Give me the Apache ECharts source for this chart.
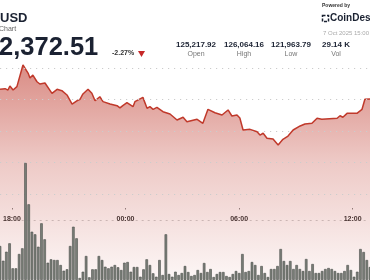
<!DOCTYPE html>
<html><head><meta charset="utf-8">
<script src="https://cdn.jsdelivr.net/npm/echarts@6/dist/echarts.min.js"></script>
<style>html,body{margin:0;padding:0;background:#fff}#c{width:370px;height:280px}</style>
</head><body><div id="c"></div>
<script>
// minutes relative to 00:00 (7 Oct)
const priceTimes = [-385,-369,-360,-354,-344,-332,-313,-297,-291,-282,-269,-260,-244,-222,-206,-191,-175,-159,-144,-134,-125,-109,-97,-87,-72,-62,-40,-18,-9,0,13,32,38,63,76,85,95,107,126,148,170,189,201,233,251,267,289,311,330,342,358,367,377,399,421,430,440,452,471,487,502,518,534,556,571,593,609,624,672,681,690,703,734,750,759,775];
const priceValues = [122581,122586,122575,122607,122575,122602,122774,122710,122671,122694,122641,122623,122631,122549,122581,122570,122536,122464,122490,122502,122544,122581,122549,122490,122522,122483,122464,122451,122433,122452,122475,122443,122483,122517,122430,122443,122422,122438,122403,122385,122337,122359,122324,122343,122311,122422,122395,122377,122417,122369,122377,122353,122258,122263,122244,122218,122232,122192,122186,122139,122184,122210,122258,122290,122306,122311,122351,122343,122351,122371,122359,122390,122390,122422,122502,122504];
const volumeValues = [340,193,283,367,117,117,260,317,1170,757,483,457,333,567,407,173,207,200,200,150,93,107,340,533,417,20,83,240,27,107,107,240,200,133,117,133,150,127,100,173,
 180,83,130,130,33,107,207,150,67,33,200,50,457,60,33,83,50,70,140,80,40,50,100,70,170,80,110,30,60,80,80,40,30,60,90,70,260,80,90,
 180,150,50,140,70,30,110,110,140,310,190,150,190,110,150,110,90,210,90,160,70,70,90,110,120,110,90,70,70,90,150,100,33,83,310,280,200,130];
const tickValues = [-360,0,360,720];
const tickLabels = ['18:00','00:00','06:00','12:00'];
const startMin = -385, stepMin = 10;
const volumeSlots = volumeValues.map((_, i) => String(startMin + i * stepMin));
const stats = [
  {value:'125,217.92', label:'Open', x:196},
  {value:'126,064.16', label:'High', x:244},
  {value:'121,963.79', label:'Low', x:291},
  {value:'29.14 K', label:'Vol', x:336}
];

const chart = echarts.init(document.getElementById('c'), null, {renderer:'canvas'});
const F = '"Liberation Sans", Arial, sans-serif';
const dark = '#1b2232';
const graphics = [
  {type:'text', x:0, y:18, style:{text:'USD', font:'bold 13px '+F, fill:dark, verticalAlign:'middle'}},
  {type:'text', x:-1, y:29.5, style:{text:'Chart', font:'7px '+F, fill:'#666', verticalAlign:'middle'}},
  {type:'text', x:-1, y:48, style:{text:'2,372.51', font:'bold 25.5px '+F, fill:dark, verticalAlign:'middle'}},
  {type:'text', x:112, y:53.5, style:{text:'-2.27%', font:'bold 7px '+F, fill:'#333', verticalAlign:'middle'}},
  {type:'polygon', shape:{points:[[138,51],[145,51],[141.5,57]]}, style:{fill:'#c62828'}},
  {type:'text', x:322, y:6, style:{text:'Powered by', font:'bold 5px '+F, fill:'#333', verticalAlign:'middle'}},
  {type:'rect', shape:{x:322.5, y:15.5, width:6, height:6}, style:{fill:'none', stroke:dark, lineWidth:1.5, lineDash:[3,1.5]}},
  {type:'text', x:330, y:18.5, style:{text:'CoinDesk', font:'bold 10px '+F, fill:dark, verticalAlign:'middle'}},
  {type:'text', x:323, y:33.5, style:{text:'7 Oct 2025 15:00 UTC', font:'6px '+F, fill:'#aaa', verticalAlign:'middle'}}
];
stats.forEach(s => {
  graphics.push({type:'text', x:s.x, y:44.5, style:{text:s.value, font:'bold 8px '+F, fill:dark, align:'center', verticalAlign:'middle'}});
  graphics.push({type:'text', x:s.x, y:54.5, style:{text:s.label, font:'7px '+F, fill:'#777', align:'center', verticalAlign:'middle'}});
});

const dotted = {color:'#cccccc', width:1, type:[1.2,4.8]};
chart.setOption({
  animation:false,
  backgroundColor:'#ffffff',
  graphic: graphics,
  grid:[
    {left:0, right:0, top:60, bottom:0},     // price
    {left:0, right:0, top:163, bottom:0},    // volume
    {left:0, right:0, top:68, bottom:86},    // gridlines
    {left:0, right:0, top:68, bottom:72}     // time labels
  ],
  xAxis:[
    {type:'value', gridIndex:0, min:-385, max:775, show:false},
    {type:'category', gridIndex:1, data:volumeSlots, boundaryGap:false, show:false},
    {type:'value', gridIndex:2, min:0, max:1, show:false},
    {type:'value', gridIndex:3, min:-385, max:775, axisLine:{show:false}, splitLine:{show:false},
      axisTick:{show:true, customValues:tickValues, length:1.5, lineStyle:{color:'#888'}}, axisLabel:{show:false}},
    {type:'value', gridIndex:3, min:-385, max:775, position:'bottom', offset:12, z:1,
      axisLine:{show:true, lineStyle:dotted}, axisTick:{show:false}, splitLine:{show:false},
      axisLabel:{show:true, customValues:tickValues, margin:-0.5, verticalAlign:'middle',
        formatter:v => tickLabels[tickValues.indexOf(v)], fontFamily:F, fontWeight:'bold', fontSize:7, color:'#333'}}
  ],
  yAxis:[
    {type:'value', gridIndex:0, min:121067.5, max:122813.5, show:false},
    {type:'value', gridIndex:1, min:0, max:1170, show:false},
    {type:'value', gridIndex:2, min:0, max:4, interval:1, z:3, axisLine:{show:false}, axisTick:{show:false},
      axisLabel:{show:false}, splitLine:{show:true, lineStyle:dotted}},
    {type:'value', gridIndex:3, show:false}
  ],
  series:[
    {type:'line', xAxisIndex:0, yAxisIndex:0, z:2, symbol:'none', clip:false,
      data: priceTimes.map((t,i)=>[t, priceValues[i]]),
      lineStyle:{color:'#c0392b', width:1.5},
      areaStyle:{origin:'start', color:new echarts.graphic.LinearGradient(0,0,0,1,[
        {offset:0, color:'rgba(190,55,42,0.82)'},
        {offset:0.45, color:'rgba(190,55,42,0.38)'},
        {offset:1, color:'rgba(190,55,42,0.06)'}])}},
    {type:'bar', xAxisIndex:1, yAxisIndex:1, z:4, data:volumeValues, barWidth:'80%',
      itemStyle:{color:'#7a7f78', borderColor:'#4a4d49', borderWidth:0.6}}
  ]
});
</script></body></html>
